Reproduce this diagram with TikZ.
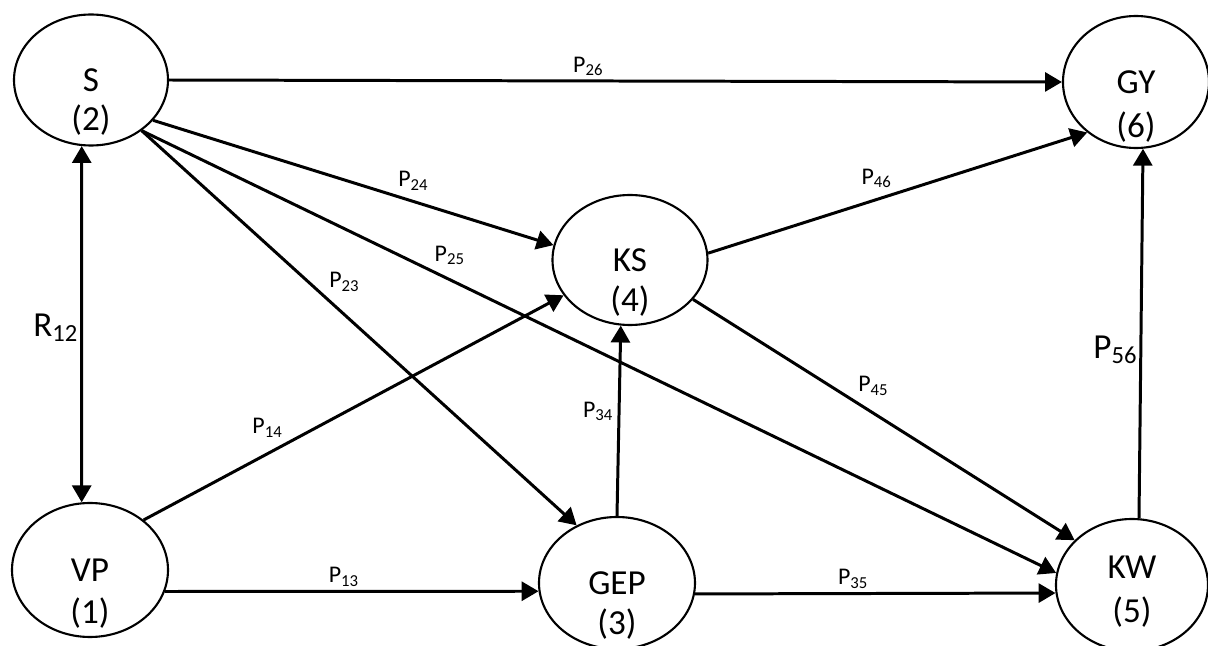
\documentclass[tikz,border=0pt]{standalone}
\usepackage{fontspec}
\setmainfont{Carlito}
\usetikzlibrary{arrows.meta,shapes.geometric}

\tikzset{
  >={Triangle[length=4.8pt,width=5.4pt]},
  var/.style={draw, ellipse, line width=0.6pt, inner sep=0pt, font=\fontsize{10}{12}\selectfont},
  num/.style={font=\fontsize{10}{12}\selectfont, inner sep=0pt},
  link/.style={line width=0.85pt, ->},
  coef/.style={font=\fontsize{6.8}{8}\selectfont, inner sep=1pt},
  bigcoef/.style={font=\fontsize{10}{12}\selectfont, inner sep=0.3pt}
}

\begin{document}
\begin{tikzpicture}
	\useasboundingbox (0,0) rectangle (12.08,6.46);
	% variables
	\node[var, minimum width=1.56cm, minimum height=1.34cm] (vp) at (0.90, 0.76) {VP};
	\node[var, minimum width=1.54cm, minimum height=1.31cm] (s) at (0.91, 5.66) {S};
	\node[var, minimum width=1.56cm, minimum height=1.32cm] (gep) at (6.17, 0.63) {GEP};
	\node[var, minimum width=1.55cm, minimum height=1.30cm] (ks) at (6.30, 3.86) {KS};
	\node[var, minimum width=1.52cm, minimum height=1.32cm] (kw) at (11.32, 0.61) {};
	\node[var, minimum width=1.46cm, minimum height=1.32cm] (gy) at (11.36, 5.64) {GY};
	\node[num] (kw-name) at ([yshift=0.18cm]kw.center) {KW};
	\node[num] (vp-id) at ([yshift=-0.43cm]vp.center) {(1)};
	\node[num] (s-id) at ([yshift=-0.40cm]s.center) {(2)};
	\node[num] (gep-id) at ([yshift=-0.41cm]gep.center) {(3)};
	\node[num] (ks-id) at ([yshift=-0.41cm]ks.center) {(4)};
	\node[num] (kw-id) at ([yshift=-0.27cm]kw.center) {(5)};
	\node[num] (gy-id) at ([yshift=-0.45cm]gy.center) {(6)};
	% paths
	\draw[link] (s.east) -- node[coef, pos=0.47, above] (p26) {P\textsubscript{26}} (gy.west);
	\draw[link] (s.-33) -- node[coef, pos=0.60, above right] (p24) {P\textsubscript{24}} (ks.169);
	\draw[link] (s.-45) -- node[coef, pos=0.315, above right] (p25) {P\textsubscript{25}} (kw.171);
	\draw[link] (s.-45) -- node[coef, pos=0.42, above right] (p23) {P\textsubscript{23}} (gep.125);
	\draw[link, <->] (s.262) -- node[bigcoef, pos=0.51, left] (r12) {R\textsubscript{12}} (vp.97);
	\draw[link] (vp.43) -- node[coef, pos=0.345, above left] (p14) {P\textsubscript{14}} (ks.208);
	\draw[link] (vp.-16) -- node[coef, pos=0.48, above] (p13) {P\textsubscript{13}} (gep.186);
	\draw[link] (gep.north) -- node[coef, pos=0.55, left] (p34) {P\textsubscript{34}} (ks.262);
	\draw[link] (gep.-8) -- node[coef, pos=0.44, above] (p35) {P\textsubscript{35}} (kw.186);
	\draw[link] (ks.-32) -- node[coef, pos=0.42, above right] (p45) {P\textsubscript{45}} (kw.142);
	\draw[link] (ks.5) -- node[coef, pos=0.50, above left] (p46) {P\textsubscript{46}} (gy.226);
	\draw[link] (kw.84) -- node[bigcoef, pos=0.455, left] (p56) {P\textsubscript{56}} (gy.-84);
\end{tikzpicture}
\end{document}
